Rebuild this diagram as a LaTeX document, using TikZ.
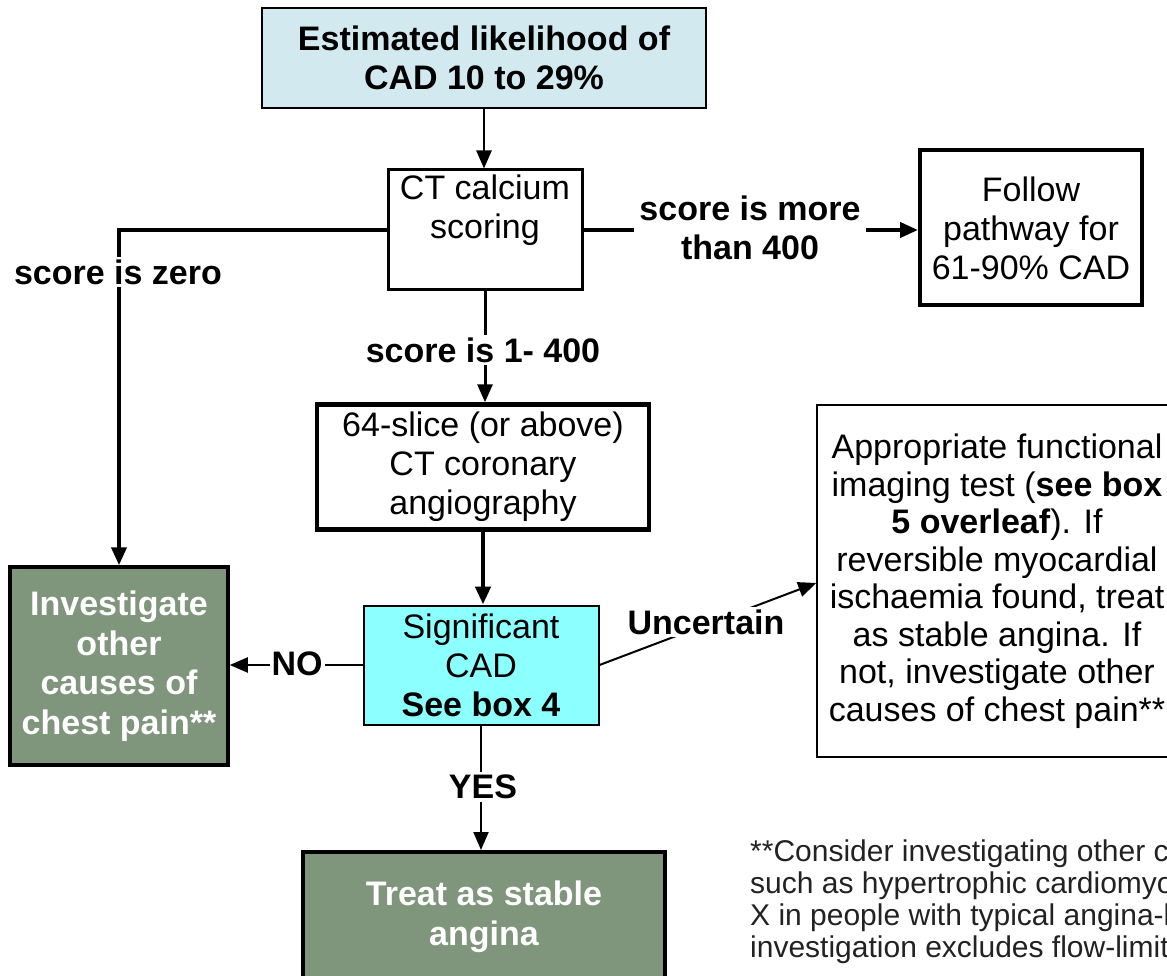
\documentclass[tikz,border=0pt]{standalone}
\usepackage{fontspec}
\setmainfont{Liberation Sans}
\usetikzlibrary{arrows.meta}
\definecolor{topblue}{HTML}{D2E9EF}
\definecolor{sigcyan}{HTML}{8CFFFF}
\definecolor{sage}{HTML}{7F967D}
\definecolor{notegray}{HTML}{222222}

\tikzset{
  box/.style={draw=black, inner sep=0pt, align=center,
              font=\fontsize{34}{39}\selectfont},
  outcome/.style={box, fill=sage, line width=4pt, text=white,
                  font=\bfseries\fontsize{34}{39.5}\selectfont},
  boxtext/.style={inner sep=0pt, align=center, font=\fontsize{34}{39}\selectfont},
  lbl/.style={fill=white, inner sep=3pt, align=center,
              font=\bfseries\fontsize{34}{39}\selectfont},
  arr/.style={-{Triangle[length=18pt,width=15pt]}},
}

\begin{document}
\begin{tikzpicture}[x=1pt, y=-1pt]
  \useasboundingbox (0,0) rectangle (1167,976);
  \clip (0,0) rectangle (1167,976);

  % boxes
  \node[box, fill=topblue, line width=2pt, minimum width=444pt, minimum height=100pt,
        font=\bfseries\fontsize{34}{39}\selectfont]
    (start) at (484,58) {Estimated likelihood of\\CAD 10 to 29\%};
  \node[box, line width=3pt, minimum width=194pt, minimum height=120pt] (ct) at (485,230) {};
  \node[boxtext] (cttext) at (485,210) {CT calcium\\scoring};
  \node[box, line width=4pt, minimum width=222pt, minimum height=155pt]
    (follow) at (1031,228) {Follow\\pathway for\\61-90\% CAD};
  \node[box, line width=4.5pt, minimum width=332pt, minimum height=125pt]
    (cta) at (483,467) {64-slice (or above)\\CT coronary\\angiography};
  \node[box, fill=sigcyan, line width=2pt, minimum width=235pt, minimum height=119pt]
    (sig) at (481,665) {Significant\\CAD\\\textbf{See box 4}};
  \node[outcome, line width=3.5pt, minimum width=218pt, minimum height=198pt]
    (other) at (119,666) {Investigate\\other\\causes of\\chest pain**};
  \node[box, line width=1.5pt, minimum width=360pt, minimum height=352pt,
        font=\fontsize{34}{37.5}\selectfont]
    (func) at (997,581) {Appropriate functional\\imaging test (\textbf{see box}\\\textbf{5 overleaf}). If\\reversible myocardial\\ischaemia found, treat\\as stable angina. If\\not, investigate other\\causes of chest pain**};
  \node[outcome, minimum width=362pt, minimum height=130pt]
    (treat) at (484,917) {Treat as stable\\angina};

  % footnote
  \node[anchor=west, align=left, inner sep=0pt, text=notegray,
        font=\fontsize{30}{32}\selectfont]
    (note) at (750,902) {**Consider investigating other causes\\such as hypertrophic cardiomyopathy\\X in people with typical angina-like\\investigation excludes flow-limiting};

  % connectors
  \draw[arr, line width=2.5pt] (start.south) -- (start.south |- ct.north);
  \draw[arr, line width=4pt] (ct.west) -| (other.north);
  \draw[arr, line width=4pt] (ct.east) -- (ct.east -| follow.west);
  \draw[arr, line width=3pt] (ct.south) -- (ct.south |- cta.north);
  \draw[arr, line width=4.5pt] (cta.south) -- (cta.south |- sig.north);
  \draw[arr, line width=2pt] (sig.west) -- (sig.west -| other.east);
  \draw[arr, line width=2pt] (sig.east) -- (func.west |- 0,583);
  \draw[arr, line width=2pt] (sig.south) -- (sig.south |- treat.north);

  % branch labels
  \node[lbl] (lzero) at (118,272) {score is zero};
  \node[lbl, inner sep=5pt] (lmore) at (750,228) {score is more\\than 400};
  \node[lbl] (lmid) at (483,350) {score is 1- 400};
  \node[lbl, inner sep=2pt] (lno) at (297,664) {NO};
  \node[lbl] (lunc) at (706,622) {Uncertain};
  \node[lbl] (lyes) at (483,787) {YES};
\end{tikzpicture}
\end{document}
